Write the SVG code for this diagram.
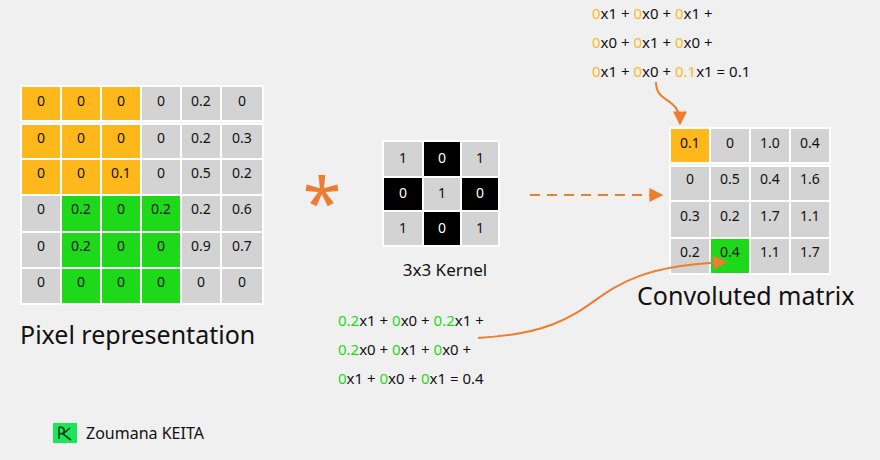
<svg xmlns="http://www.w3.org/2000/svg" width="880" height="460" viewBox="0 0 880 460">
<defs>
<style>
text{font-family:"Noto Sans","Liberation Sans",sans-serif;fill:#111}
.c{font-size:14px;text-anchor:middle}
.g{fill:#d3d3d3;stroke:#fff;stroke-width:2}
.o{fill:#ffb81c;stroke:#fff;stroke-width:2}
.n{fill:#1ed91a;stroke:#fff;stroke-width:2}
.k{fill:#000;stroke:#fff;stroke-width:2}
.f{font-size:15px}
.y{fill:#ffb81c}.e{fill:#1ed91a}
</style>
<marker id="a" viewBox="0 0 10 10" refX="9" refY="5" markerWidth="7" markerHeight="7" orient="auto"><path d="M0,0L10,5L0,10z" fill="#ed7d31"/></marker>
</defs>
<rect width="880" height="460" fill="#f0f0f0"/>
<g id="pixel">
<rect class="o" x="21" y="86" width="40" height="35"/><rect class="o" x="61" y="86" width="40" height="35"/><rect class="o" x="101" y="86" width="40" height="35"/><rect class="g" x="141" y="86" width="40" height="35"/><rect class="g" x="181" y="86" width="40" height="35"/><rect class="g" x="221" y="86" width="42" height="35"/>
<rect class="o" x="21" y="124" width="40" height="35"/><rect class="o" x="61" y="124" width="40" height="35"/><rect class="o" x="101" y="124" width="40" height="35"/><rect class="g" x="141" y="124" width="40" height="35"/><rect class="g" x="181" y="124" width="40" height="35"/><rect class="g" x="221" y="124" width="42" height="35"/>
<rect class="o" x="21" y="159" width="40" height="36"/><rect class="o" x="61" y="159" width="40" height="36"/><rect class="o" x="101" y="159" width="40" height="36"/><rect class="g" x="141" y="159" width="40" height="36"/><rect class="g" x="181" y="159" width="40" height="36"/><rect class="g" x="221" y="159" width="42" height="36"/>
<rect class="g" x="21" y="195" width="40" height="37"/><rect class="n" x="61" y="195" width="40" height="37"/><rect class="n" x="101" y="195" width="40" height="37"/><rect class="n" x="141" y="195" width="40" height="37"/><rect class="g" x="181" y="195" width="40" height="37"/><rect class="g" x="221" y="195" width="42" height="37"/>
<rect class="g" x="21" y="232" width="40" height="36"/><rect class="n" x="61" y="232" width="40" height="36"/><rect class="n" x="101" y="232" width="40" height="36"/><rect class="n" x="141" y="232" width="40" height="36"/><rect class="g" x="181" y="232" width="40" height="36"/><rect class="g" x="221" y="232" width="42" height="36"/>
<rect class="g" x="21" y="268" width="40" height="36"/><rect class="n" x="61" y="268" width="40" height="36"/><rect class="n" x="101" y="268" width="40" height="36"/><rect class="n" x="141" y="268" width="40" height="36"/><rect class="g" x="181" y="268" width="40" height="36"/><rect class="g" x="221" y="268" width="42" height="36"/>
<g class="c">
<text x="41" y="106">0</text><text x="81" y="106">0</text><text x="121" y="106">0</text><text x="161" y="106">0</text><text x="201" y="106">0.2</text><text x="242" y="106">0</text>
<text x="41" y="143">0</text><text x="81" y="143">0</text><text x="121" y="143">0</text><text x="161" y="143">0</text><text x="201" y="143">0.2</text><text x="242" y="143">0.3</text>
<text x="41" y="178">0</text><text x="81" y="178">0</text><text x="121" y="178">0.1</text><text x="161" y="178">0</text><text x="201" y="178">0.5</text><text x="242" y="178">0.2</text>
<text x="41" y="214">0</text><text x="81" y="214">0.2</text><text x="121" y="214">0</text><text x="161" y="214">0.2</text><text x="201" y="214">0.2</text><text x="242" y="214">0.6</text>
<text x="41" y="251">0</text><text x="81" y="251">0.2</text><text x="121" y="251">0</text><text x="161" y="251">0</text><text x="201" y="251">0.9</text><text x="242" y="251">0.7</text>
<text x="41" y="287">0</text><text x="81" y="287">0</text><text x="121" y="287">0</text><text x="161" y="287">0</text><text x="201" y="287">0</text><text x="242" y="287">0</text>
</g>
<text x="20" y="344" font-size="25">Pixel representation</text>
</g>
<g id="star"><text x="322" y="228" font-size="70" text-anchor="middle" style="fill:#ed7d31">*</text></g>
<g id="kernel">
<rect class="g" x="383" y="141" width="40" height="36"/><rect class="k" x="423" y="141" width="38" height="36"/><rect class="g" x="461" y="141" width="38" height="36"/>
<rect class="k" x="383" y="177" width="40" height="34"/><rect class="g" x="423" y="177" width="38" height="34"/><rect class="k" x="461" y="177" width="38" height="34"/>
<rect class="g" x="383" y="211" width="40" height="35"/><rect class="k" x="423" y="211" width="38" height="35"/><rect class="g" x="461" y="211" width="38" height="35"/>
<g class="c">
<text x="403" y="163">1</text><text x="442" y="163" style="fill:#fff">0</text><text x="480" y="163">1</text>
<text x="403" y="198" style="fill:#fff">0</text><text x="442" y="198">1</text><text x="480" y="198" style="fill:#fff">0</text>
<text x="403" y="233">1</text><text x="442" y="233" style="fill:#fff">0</text><text x="480" y="233">1</text>
</g>
<text x="445" y="276" font-size="17" text-anchor="middle">3x3 Kernel</text>
</g>
<g id="result">
<rect class="o" x="670" y="128" width="40" height="35"/><rect class="g" x="710" y="128" width="40" height="35"/><rect class="g" x="750" y="128" width="40" height="35"/><rect class="g" x="790" y="128" width="40" height="35"/>
<rect class="g" x="670" y="166" width="40" height="35"/><rect class="g" x="710" y="166" width="40" height="35"/><rect class="g" x="750" y="166" width="40" height="35"/><rect class="g" x="790" y="166" width="40" height="35"/>
<rect class="g" x="670" y="201" width="40" height="37"/><rect class="g" x="710" y="201" width="40" height="37"/><rect class="g" x="750" y="201" width="40" height="37"/><rect class="g" x="790" y="201" width="40" height="37"/>
<rect class="g" x="670" y="238" width="40" height="36"/><rect class="n" x="710" y="238" width="40" height="36"/><rect class="g" x="750" y="238" width="40" height="36"/><rect class="g" x="790" y="238" width="40" height="36"/>
<g class="c">
<text x="690" y="148">0.1</text><text x="730" y="148">0</text><text x="770" y="148">1.0</text><text x="810" y="148">0.4</text>
<text x="690" y="184">0</text><text x="730" y="184">0.5</text><text x="770" y="184">0.4</text><text x="810" y="184">1.6</text>
<text x="690" y="221">0.3</text><text x="730" y="221">0.2</text><text x="770" y="221">1.7</text><text x="810" y="221">1.1</text>
<text x="690" y="257">0.2</text><text x="730" y="257">0.4</text><text x="770" y="257">1.1</text><text x="810" y="257">1.7</text>
</g>
<text x="637" y="305" font-size="25">Convoluted matrix</text>
</g>
<g id="formula-top" class="f">
<text x="592" y="19"><tspan class="y">0</tspan>x1 + <tspan class="y">0</tspan>x0 + <tspan class="y">0</tspan>x1 +</text>
<text x="592" y="48"><tspan class="y">0</tspan>x0 + <tspan class="y">0</tspan>x1 + <tspan class="y">0</tspan>x0 +</text>
<text x="592" y="77"><tspan class="y">0</tspan>x1 + <tspan class="y">0</tspan>x0 + <tspan class="y">0.1</tspan>x1 = 0.1</text>
</g>
<g id="formula-bottom" class="f">
<text x="338" y="326"><tspan class="e">0.2</tspan>x1 + <tspan class="e">0</tspan>x0 + <tspan class="e">0.2</tspan>x1 +</text>
<text x="338" y="355"><tspan class="e">0.2</tspan>x0 + <tspan class="e">0</tspan>x1 + <tspan class="e">0</tspan>x0 +</text>
<text x="338" y="384"><tspan class="e">0</tspan>x1 + <tspan class="e">0</tspan>x0 + <tspan class="e">0</tspan>x1 = 0.4</text>
</g>
<g id="connectors" fill="none" stroke="#ed7d31" stroke-width="2">
<path d="M530,195H662" stroke-dasharray="10,7" marker-end="url(#a)"/>
<path d="M656,82C656,105 680,95 680,124" marker-end="url(#a)"/>
<path d="M478,338C620,330 570,268 726,262" marker-end="url(#a)"/>
</g>
<g id="logo">
<rect x="53" y="423" width="24" height="20" fill="#1ee65a"/>
<path d="M59,427V439M59,427C66,427 66,434 59,434M70,428L63,434L71,440" stroke="#0a4020" stroke-width="1.6" fill="none"/>
<text x="86" y="439" font-size="16">Zoumana KEITA</text>
</g>
</svg>
